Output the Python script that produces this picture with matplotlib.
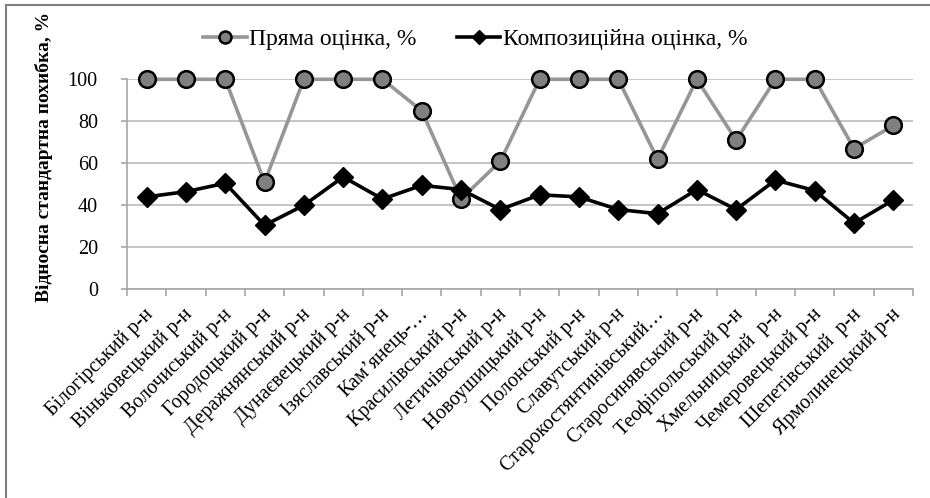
import numpy as np
import matplotlib
matplotlib.use('Agg')
import matplotlib.pyplot as plt
import matplotlib.transforms as mtransforms
from matplotlib.lines import Line2D

plt.rcParams['font.family'] = ['Liberation Serif', 'DejaVu Serif']

### Data
districts = ['Білогірський р-н', 'Віньковецький р-н', 'Волочиський р-н',
             'Городоцький р-н', 'Деражнянський р-н', 'Дунаєвецький р-н',
             'Ізяславський р-н', 'Кам’янець-…', 'Красилівський р-н',
             'Летичівський р-н', 'Новоушицький р-н', 'Полонський р-н',
             'Славутський р-н', 'Старокостянтинівський…', 'Старосинявський р-н',
             'Теофіпольський р-н', 'Хмельницький  р-н', 'Чемеровецький р-н',
             'Шепетівський  р-н', 'Ярмолинецький р-н']
direct = [100, 100, 100, 51, 100, 100, 100, 85, 43, 61,
          100, 100, 100, 62, 100, 71, 100, 100, 67, 78]
composite = [44, 46.5, 50.5, 30.5, 40, 53.5, 43, 49.5, 47.5, 38,
             45, 44, 38, 36, 47.5, 38, 52, 47, 31.5, 42.5]
y_ticks = [0, 20, 40, 60, 80, 100]

fig = plt.figure(figsize=(9.3, 4.98), dpi=100)
ax = fig.add_axes([127 / 930, 1 - 289.3 / 498, 786 / 930, 210 / 498])

x = np.arange(len(districts))
ax.plot(x, direct, color='#969696', lw=2.6, marker='o', ms=12,
        mfc='#808080', mec='black', mew=1.8, clip_on=False, zorder=3,
        label='Пряма оцінка, %')
ax.plot(x, composite, color='black', lw=2.6, marker='D', ms=10,
        mfc='black', mec='black', clip_on=False, zorder=4,
        label='Композиційна оцінка, %')

# axes styling (Excel-like)
ax.set_xlim(-0.5, len(districts) - 0.5)
ax.set_ylim(0, 100)
ax.set_yticks(y_ticks)
ax.set_yticklabels([str(v) for v in y_ticks], fontsize=14.5)
ax.yaxis.grid(True, color='#c0c0c0', lw=1.3)
ax.set_axisbelow(True)
for s in ['top', 'right']:
    ax.spines[s].set_visible(False)
for s in ['left', 'bottom']:
    ax.spines[s].set_color('#a6a6a6')
    ax.spines[s].set_linewidth(1.2)
ax.tick_params(axis='y', length=4, color='#a6a6a6', width=1.2, pad=17)

ax.set_xticks(x)
ax.set_xticklabels(districts, rotation=45, ha='right', va='center',
                   rotation_mode='anchor', fontsize=14.5)
ax.tick_params(axis='x', which='major', length=0, pad=16)
ax.set_xticks(np.arange(-0.5, len(districts)), minor=True)
ax.tick_params(axis='x', which='minor', length=5, color='#a6a6a6', width=1.2)
shift = mtransforms.ScaledTranslation(4 / 100, 0, fig.dpi_scale_trans)
for lbl in ax.get_xticklabels():
    lbl.set_transform(lbl.get_transform() + shift)

ax.set_ylabel('Відносна стандартна похибка, %', fontsize=14, fontweight='bold')
ax.yaxis.set_label_coords(-0.094, 0.63)

ax.legend(loc='center', bbox_to_anchor=(0.443, 1.19), ncol=2, frameon=False,
          fontsize=17, handlelength=1.85, handletextpad=0.1, columnspacing=1.7,
          markerscale=0.72)

# partial frame around the chart
fig.add_artist(Line2D([6 / 930, 6 / 930], [0, 1 - 5 / 498], color='#808080',
                      lw=1.5, transform=fig.transFigure))
fig.add_artist(Line2D([6 / 930, 1], [1 - 5 / 498, 1 - 5 / 498], color='#808080',
                      lw=1.5, transform=fig.transFigure))

fig.savefig('out.png', dpi=100)
